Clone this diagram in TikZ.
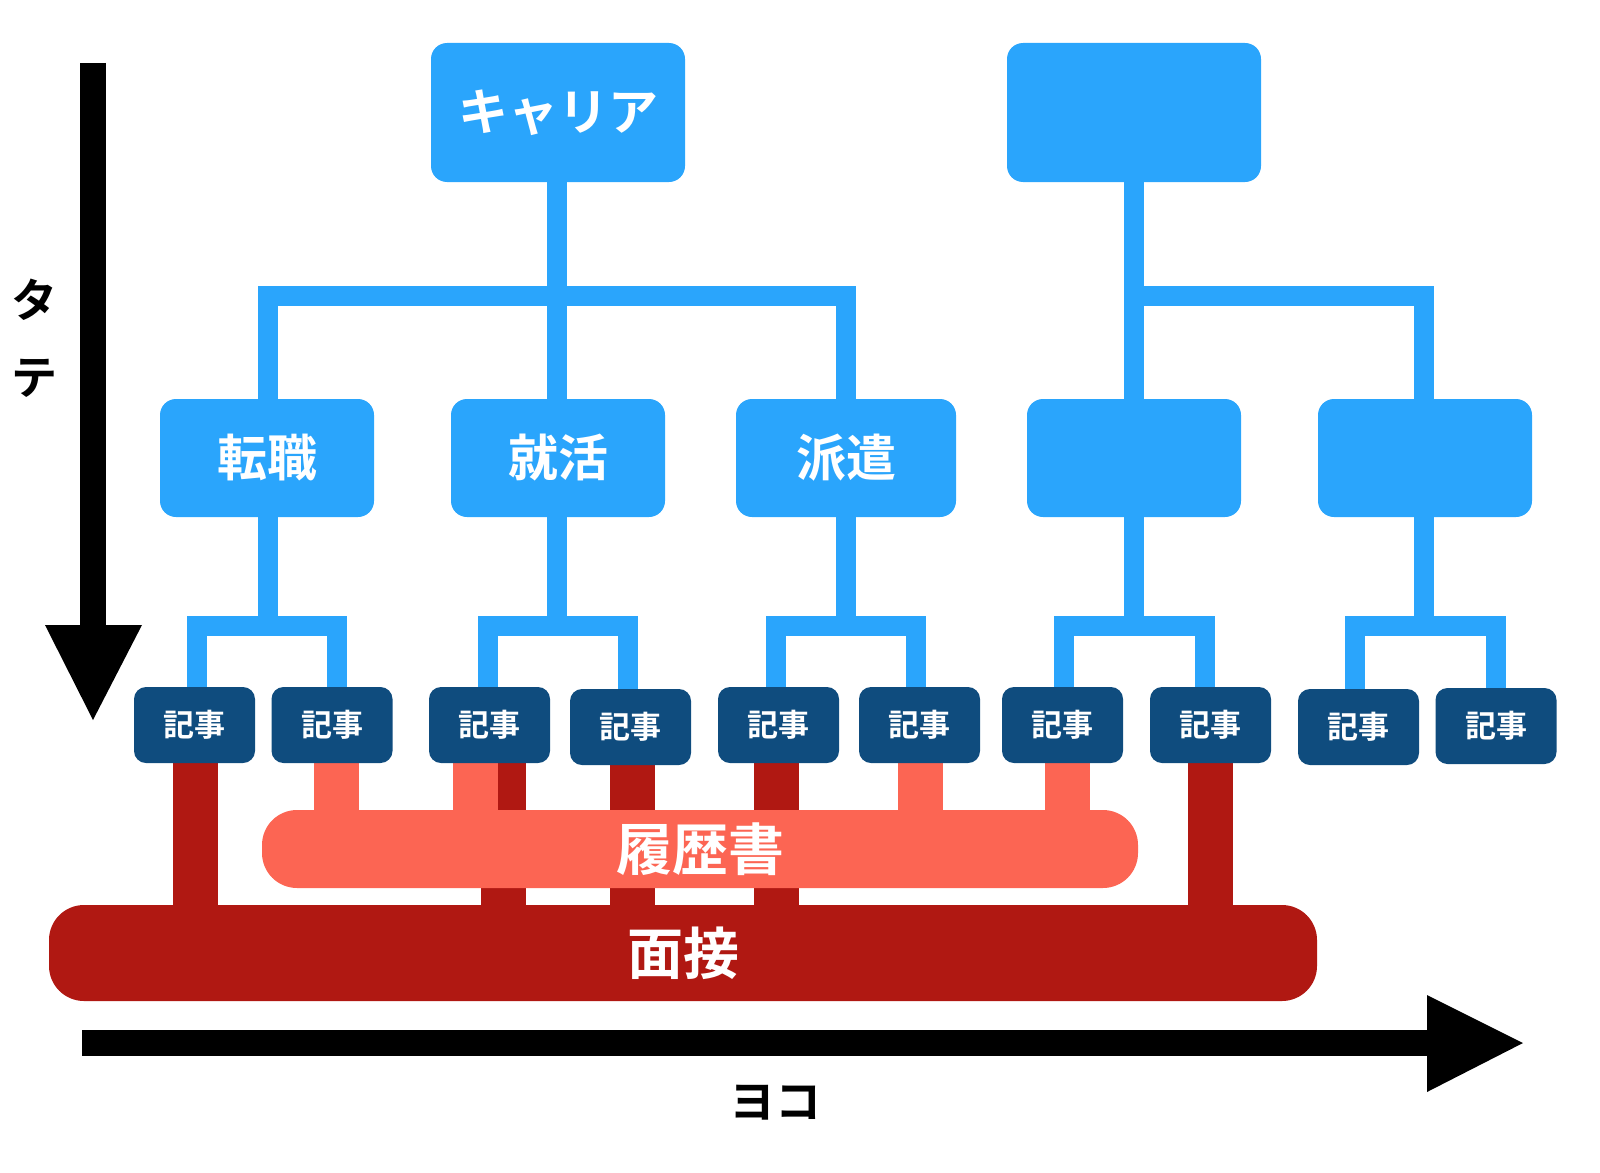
\documentclass[tikz,border=0pt]{standalone}
\usepackage{fontspec}
\setmainfont{Noto Sans CJK JP}[BoldFont={Noto Sans CJK JP Bold}]
\begin{document}
\begin{tikzpicture}[x=1pt,y=-1pt,
  blue/.style={fill=myblue,draw=none,rounded corners=16pt,text=white,font=\bfseries\fontsize{50}{54}\selectfont,inner sep=0pt},
  art/.style={fill=mynavy,draw=none,rounded corners=12pt,text=white,font=\bfseries\fontsize{31}{34}\selectfont,minimum width=121pt,minimum height=76pt,inner sep=0pt},
  bl/.style={draw=myblue,line width=20pt,line join=miter},
  rd/.style={draw=myred,line width=45pt},
  sa/.style={draw=mysalmon,line width=45pt},
  ax/.style={line width=26pt,draw=black}]
\definecolor{myblue}{HTML}{2AA5FC}
\definecolor{mynavy}{HTML}{0F4C7E}
\definecolor{myred}{HTML}{B01812}
\definecolor{mysalmon}{HTML}{FC6553}
\useasboundingbox (0,0) rectangle (1600,1172);
% axes
\coordinate (v0) at (93,63); \coordinate (v1) at (93,630);
\draw[ax] (v0) -- (v1);
\fill (45,625) -- (142,625) -- (93,720) -- cycle;
\coordinate (h0) at (82,1043); \coordinate (h1) at (1432,1043);
\draw[ax] (h0) -- (h1);
\fill (1427,995) -- (1427,1092) -- (1523,1043) -- cycle;
\node[font=\bfseries\fontsize{46}{50}\selectfont] (ta) at (35,300) {タ};
\node[font=\bfseries\fontsize{46}{50}\selectfont] (te) at (35,378) {テ};
\node[font=\bfseries\fontsize{46}{50}\selectfont] (yoko) at (775,1103) {ヨコ};
% tree connectors
\draw[bl] (557,182) -- (557,400);
\draw[bl] (268,400) -- (268,296) -- (846,296) -- (846,400);
\draw[bl] (1134,182) -- (1134,400);
\draw[bl] (1134,296) -- (1424,296) -- (1424,400);
\foreach \c/\a/\b in {268/197/337, 557/488/628, 846/776/916, 1134/1064/1205, 1424/1355/1496}{
  \draw[bl] (\c,517) -- (\c,626);
  \draw[bl] (\a,690) -- (\a,626) -- (\b,626) -- (\b,690);
}
% red connectors
\foreach \x in {195,503,632,776,1210} \draw[rd] (\x,763) -- (\x,930);
\node[fill=myred,rounded corners=35pt,minimum width=1268pt,minimum height=96pt,text=white,font=\bfseries\fontsize{56}{60}\selectfont,inner sep=0pt] (mensetsu) at (683,953) {面接};
\foreach \x in {336,475,920,1067} \draw[sa] (\x,763) -- (\x,830);
\node[fill=mysalmon,rounded corners=35pt,minimum width=876pt,minimum height=78pt,text=white,font=\bfseries\fontsize{56}{60}\selectfont,inner sep=0pt] (rireki) at (700,849) {履歴書};
% boxes
\node[blue,minimum width=254pt,minimum height=139pt] (car) at (558,112.5) {キャリア};
\node[blue,minimum width=254pt,minimum height=139pt] (top2) at (1134,112.5) {};
\node[blue,minimum width=214pt,minimum height=118pt] (tenshoku) at (267,458) {転職};
\node[blue,minimum width=214pt,minimum height=118pt] (shukatsu) at (558,458) {就活};
\node[blue,minimum width=220pt,minimum height=118pt] (haken) at (846,458) {派遣};
\node[blue,minimum width=214pt,minimum height=118pt] (m4) at (1134,458) {};
\node[blue,minimum width=214pt,minimum height=118pt] (m5) at (1425,458) {};
\foreach \x/\y/\n in {194.5/725/a1, 332/725/a2, 489.5/725/a3, 630.5/727/a4, 778.5/725/a5, 919.5/725/a6, 1062.5/725/a7, 1210.5/725/a8, 1358.5/727/a9, 1496/726/a10}
  \node[art] (\n) at (\x,\y) {記事};
\end{tikzpicture}
\end{document}
